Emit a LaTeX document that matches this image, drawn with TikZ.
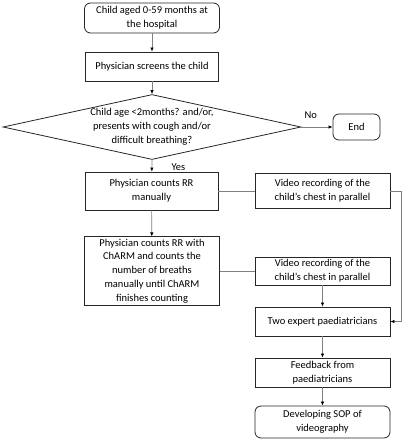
\documentclass[tikz,border=0pt]{standalone}
\usepackage{fontspec}
\setmainfont{Carlito}
\usetikzlibrary{shapes.geometric,arrows.meta}

\begin{document}
\begin{tikzpicture}[x=1pt,y=-1pt,
  box/.style={draw=black!85, line width=0.8pt, minimum width=135pt, align=center, inner sep=2pt, font=\fontsize{10.5}{13.8}\selectfont},
  roundbox/.style={box, rounded corners=6pt},
  decision/.style={draw=black!85, line width=0.8pt, diamond, inner sep=0pt, minimum width=298pt, minimum height=65pt},
  txt/.style={align=center, font=\fontsize{10.5}{13.8}\selectfont},
  conn/.style={draw=black!50, line width=0.7pt},
  arrow/.style={conn, -{Latex[length=4pt,width=3.5pt,black]}}]
\useasboundingbox (0,0) rectangle (406,440);

\node[roundbox, minimum height=30pt] (start)  at (152,18)    {Child aged 0-59 months at\\the hospital};
\node[box, minimum height=29pt, minimum width=133pt] (screen) at (152,66.5) {Physician screens the child};
\node[decision] (dec) at (152,127) {};
\node[txt] (dectxt) at (dec) {Child age <2months? and/or,\\presents with cough and/or\\difficult breathing?};
\node[roundbox, minimum width=47pt, minimum height=26pt] (end) at (356.5,127) {End};
\node[box, minimum height=38pt, minimum width=133pt] (rr) at (151.5,191) {Physician counts RR\\manually};
\node[box, minimum height=35pt] (vid1) at (322.5,191) {Video recording of the\\child’s chest in parallel};
\node[box, minimum height=68pt] (charm) at (152,271) {Physician counts RR with\\ChARM and counts the\\number of breaths\\manually until ChARM\\finishes counting};
\node[box, minimum height=28pt] (vid2) at (322.5,271) {Video recording of the\\child’s chest in parallel};
\node[box, minimum height=29pt] (expert) at (322.5,321.5) {Two expert paediatricians};
\node[box, minimum height=29pt] (feedback) at (322.5,372.5) {Feedback from\\paediatricians};
\node[roundbox, minimum height=32pt] (sop) at (322.5,422) {Developing SOP of\\videography};

\draw[arrow] (start) -- (screen);
\draw[arrow] (screen) -- (dec);
\draw[arrow] (dec.east) -- (end) node[txt, pos=0.3, above=5pt] {No};
\draw[arrow] (dec.south) -- (rr) node[txt, pos=0.6, right=16pt] {Yes};
\draw[conn] (rr) -- (vid1);
\draw[arrow] (vid1.east) -- ++(11,0) |- (expert.east);
\draw[arrow] (rr) -- (charm);
\draw[conn] (charm) -- (vid2);
\draw[arrow] (vid2) -- (expert);
\draw[arrow] (expert) -- (feedback);
\draw[arrow] (feedback) -- (sop);
\end{tikzpicture}
\end{document}
